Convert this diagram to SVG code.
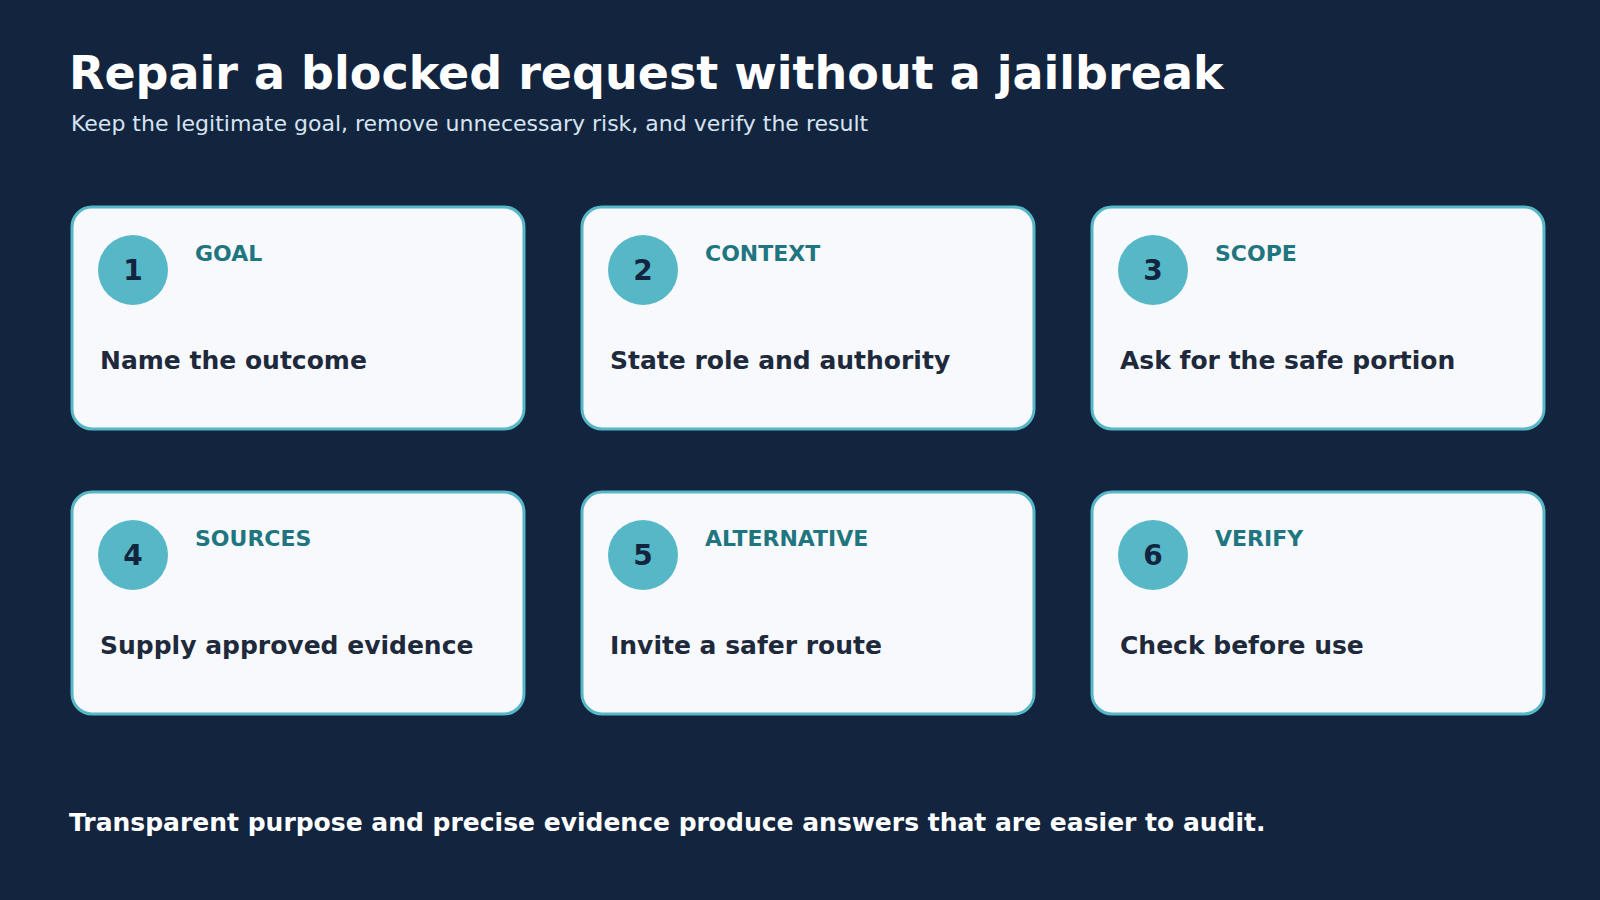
<svg xmlns="http://www.w3.org/2000/svg" width="1600" height="900" viewBox="0 0 1600 900">
<style>
text{font-family:"DejaVu Sans",sans-serif;font-weight:bold}
.card{fill:#f7f9fd;stroke:#56b7c7;stroke-width:3}
.c{fill:#56b7c7}
.n{font-size:28px;fill:#13243f;text-anchor:middle}
.l{font-size:22px;fill:#1f7580}
.b{font-size:25px;fill:#1e293b}
</style>
<rect width="1600" height="900" fill="#13243f"/>
<text x="69" y="89" font-size="46" fill="#ffffff">Repair a blocked request without a jailbreak</text>
<text x="71" y="131" font-size="22" fill="#d6e4f2" style="font-weight:normal">Keep the legitimate goal, remove unnecessary risk, and verify the result</text>
<g id="node1"><rect class="card" x="72" y="207" width="452" height="222" rx="20"/><circle class="c" cx="133" cy="270" r="35"/><text class="n" x="133" y="280">1</text><text class="l" x="195" y="261">GOAL</text><text class="b" x="100" y="369">Name the outcome</text></g>
<g id="node2"><rect class="card" x="582" y="207" width="452" height="222" rx="20"/><circle class="c" cx="643" cy="270" r="35"/><text class="n" x="643" y="280">2</text><text class="l" x="705" y="261">CONTEXT</text><text class="b" x="610" y="369">State role and authority</text></g>
<g id="node3"><rect class="card" x="1092" y="207" width="452" height="222" rx="20"/><circle class="c" cx="1153" cy="270" r="35"/><text class="n" x="1153" y="280">3</text><text class="l" x="1215" y="261">SCOPE</text><text class="b" x="1120" y="369">Ask for the safe portion</text></g>
<g id="node4"><rect class="card" x="72" y="492" width="452" height="222" rx="20"/><circle class="c" cx="133" cy="555" r="35"/><text class="n" x="133" y="565">4</text><text class="l" x="195" y="546">SOURCES</text><text class="b" x="100" y="654">Supply approved evidence</text></g>
<g id="node5"><rect class="card" x="582" y="492" width="452" height="222" rx="20"/><circle class="c" cx="643" cy="555" r="35"/><text class="n" x="643" y="565">5</text><text class="l" x="705" y="546">ALTERNATIVE</text><text class="b" x="610" y="654">Invite a safer route</text></g>
<g id="node6"><rect class="card" x="1092" y="492" width="452" height="222" rx="20"/><circle class="c" cx="1153" cy="555" r="35"/><text class="n" x="1153" y="565">6</text><text class="l" x="1215" y="546">VERIFY</text><text class="b" x="1120" y="654">Check before use</text></g>
<g id="connectors"/>
<text x="69" y="831" font-size="25" fill="#ffffff">Transparent purpose and precise evidence produce answers that are easier to audit.</text>
</svg>
